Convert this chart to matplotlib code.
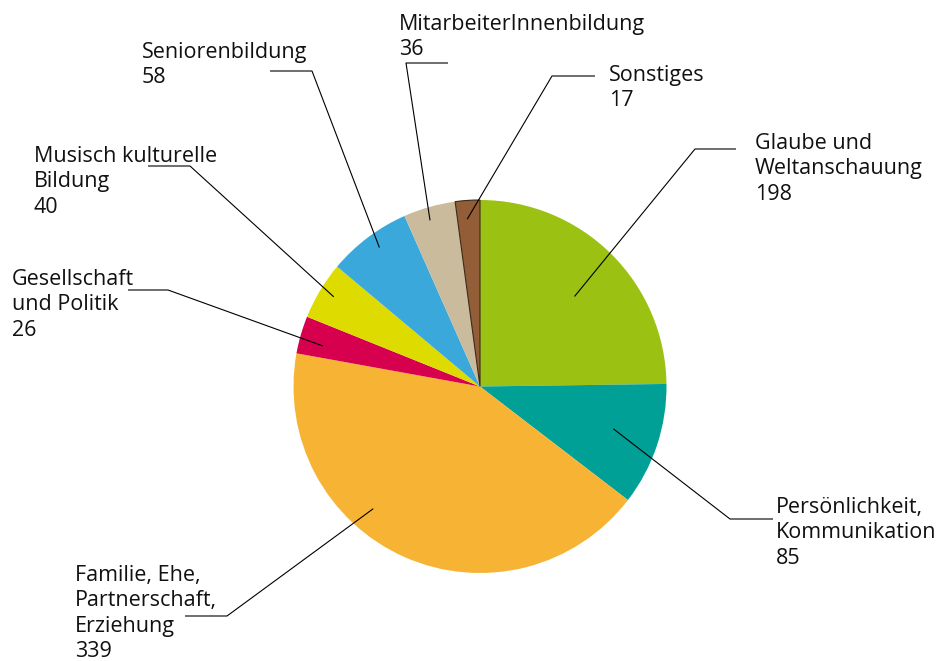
import numpy as np
import matplotlib.pyplot as plt

# data
labels = ['Glaube und\nWeltanschauung', 'Persönlichkeit,\nKommunikation',
          'Familie, Ehe,\nPartnerschaft,\nErziehung', 'Gesellschaft\nund Politik',
          'Musisch kulturelle\nBildung', 'Seniorenbildung',
          'MitarbeiterInnenbildung', 'Sonstiges']
values = [198, 85, 339, 26, 40, 58, 36, 17]
colors = ['#9BC112', '#00A096', '#F7B334', '#D6004F', '#DDDB00', '#3BA8DB',
          '#CBBB9D', '#925D37']

W, H = 942, 661
plt.rcParams['font.family'] = ['Open Sans', 'DejaVu Sans']

fig = plt.figure(figsize=(W / 100, H / 100), dpi=100)
ax = fig.add_axes([0, 0, 1, 1])

cx, cy, R = 480, H - 386.5, 186.5
wedges, _ = ax.pie(values, colors=colors, startangle=90, counterclock=False,
                   center=(cx, cy), radius=R, frame=True)
ax.set_xlim(0, W)
ax.set_ylim(0, H)
ax.axis('off')
wedges[-1].set_edgecolor('#3a2a1a')
wedges[-1].set_linewidth(0.8)

# leader layout: anchor (fraction along wedge, radius fraction), elbow px, end px, text px (x, first baseline)
layout = [
    ((0.52, 0.70), (695, 149), (736, 149), (755, 149)),
    ((0.48, 0.75), (730, 519), (773, 519), (776, 513)),
    ((0.613, 0.87), (227, 616), (185, 616), (75, 581)),
    ((0.36, 0.87), (168, 290), (128, 290), (12, 285)),
    ((0.53, 0.92), (190, 166), (148, 166), (34, 162)),
    ((0.54, 0.92), (312, 71), (270, 71), (142, 58)),
    ((0.44, 0.93), (406, 63), (448, 63), (399, 30)),
    ((0.43, 0.90), (552, 76), (595, 76), (609, 81)),
]
step = 25.3

for w, lab, val, (anc, elb, end, txt) in zip(wedges, labels, values, layout):
    t1, t2 = w.theta1, w.theta2
    # clockwise wedges: go from theta2 toward theta1
    ang = np.deg2rad(t2 - anc[0] * (t2 - t1))
    ax_ = cx + anc[1] * R * np.cos(ang)
    ay_ = cy + anc[1] * R * np.sin(ang)
    ax.plot([ax_, elb[0], end[0]], [ay_, H - elb[1], H - end[1]],
            color='black', lw=0.8, solid_capstyle='butt')
    lines = lab.split('\n') + [str(val)]
    for i, s in enumerate(lines):
        ax.text(txt[0], H - (txt[1] + i * step), s, fontsize=15.5, ha='left',
                va='baseline', color='#111111')

fig.savefig('out.png', dpi=100)
